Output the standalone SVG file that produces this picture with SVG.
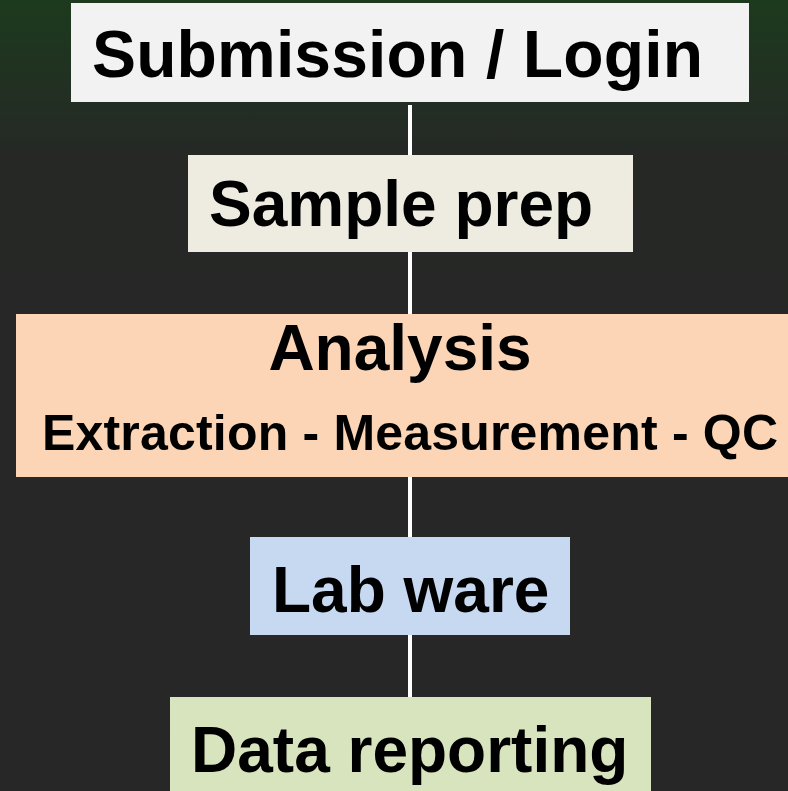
<svg xmlns="http://www.w3.org/2000/svg" width="788" height="791" viewBox="0 0 788 791">
  <defs>
    <linearGradient id="bg" x1="0" y1="0" x2="0" y2="791" gradientUnits="userSpaceOnUse">
      <stop offset="0" stop-color="#1c3a1d"/>
      <stop offset="0.2" stop-color="#262826"/>
      <stop offset="1" stop-color="#272727"/>
    </linearGradient>
    <style>
      .lbl { font-family: "Liberation Sans", Arial, sans-serif; font-weight: bold; fill: #000; }
      .big { font-size: 64px; }
      .sub { font-size: 50px; }
      .conn { stroke: #ffffff; stroke-width: 4; fill: none; }
    </style>
  </defs>

  <rect x="0" y="0" width="788" height="791" fill="url(#bg)"/>

  <!-- vertical connectors between stages -->
  <g id="connectors">
    <line class="conn" x1="410" y1="105" x2="410" y2="155"/>
    <line class="conn" x1="410" y1="252" x2="410" y2="314"/>
    <line class="conn" x1="410" y1="477" x2="410" y2="537"/>
    <line class="conn" x1="410" y1="635" x2="410" y2="697"/>
  </g>

  <g id="submission">
    <rect x="71" y="3" width="678" height="99" fill="#f2f2f2"/>
    <text class="lbl" x="92" y="77" font-size="66" textLength="611">Submission / Login</text>
  </g>

  <g id="sample-prep">
    <rect x="188" y="155" width="445" height="97" fill="#eeece1"/>
    <text class="lbl big" x="209" y="226">Sample prep</text>
  </g>

  <g id="analysis">
    <rect x="16" y="314" width="772" height="163" fill="#fbd5b5"/>
    <text class="lbl big" x="400" y="370" text-anchor="middle">Analysis</text>
    <text class="lbl sub" x="42" y="450" textLength="736">Extraction - Measurement - QC</text>
  </g>

  <g id="lab-ware">
    <rect x="250" y="537" width="320" height="98" fill="#c6d9f1"/>
    <text class="lbl big" x="272" y="612">Lab ware</text>
  </g>

  <g id="data-reporting">
    <rect x="170" y="697" width="481" height="100" fill="#d7e4bd"/>
    <text class="lbl big" x="191" y="772">Data reporting</text>
  </g>
</svg>
